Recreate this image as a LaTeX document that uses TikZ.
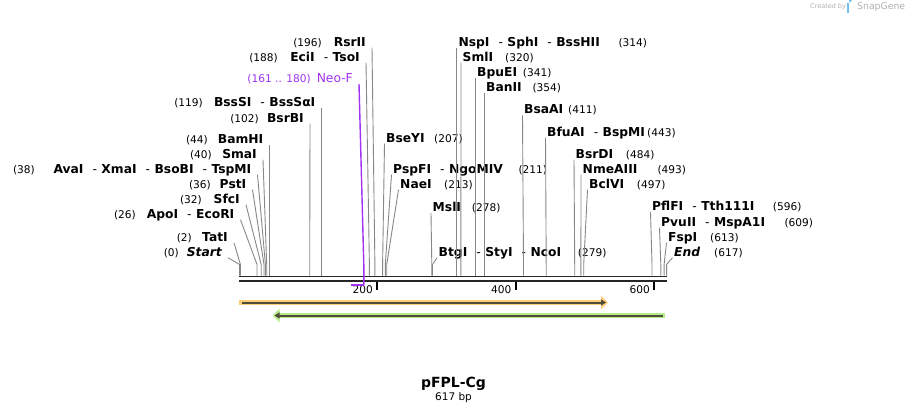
\documentclass[tikz,border=0pt]{standalone}
\usepackage{fontspec}
\setmainfont{DejaVu Sans}
\usepackage{xcolor}
\usepackage{tikz}
\usetikzlibrary{arrows.meta}
\definecolor{cutgray}{RGB}{135,135,135}
\definecolor{neopurple}{RGB}{160,50,240}
\definecolor{featorange}{RGB}{255,204,120}
\definecolor{featgreen}{RGB}{182,236,135}
\definecolor{featdark}{RGB}{78,76,60}
\definecolor{credgray}{RGB}{175,175,175}
\definecolor{logoblue}{RGB}{110,190,240}
\tikzset{enzyme left/.style={anchor=base east, inner xsep=6pt, inner ysep=1.5pt, text depth=0pt, font=\fontsize{12.3}{14}\selectfont\bfseries}}
\tikzset{enzyme right/.style={anchor=base west, inner xsep=1.5pt, inner ysep=1.5pt, text depth=0pt, font=\fontsize{12.3}{14}\selectfont\bfseries}}
\tikzset{pos left/.style={anchor=base east, inner sep=0pt, font=\fontsize{10.6}{12}\selectfont}}
\tikzset{pos right/.style={anchor=base west, inner sep=0pt, font=\fontsize{10.6}{12}\selectfont}}
\tikzset{cut line/.style={draw=cutgray, line width=0.9pt}}
\tikzset{seq bar/.style={draw=black!85, line width=1.8pt}}
\newcommand{\dsep}{\hspace{9pt}{\mdseries -}\hspace{4.5pt}}

\begin{document}
\begin{tikzpicture}[x=1pt, y=-1pt]
  \useasboundingbox (0,0) rectangle (907,415);

  \coordinate (s0) at (239.5,275.5);
  \coordinate (s2) at (240.4,275.5);
  \coordinate (s26) at (257.0,275.5);
  \coordinate (s32) at (261.2,275.5);
  \coordinate (s36) at (264.0,275.5);
  \coordinate (s38) at (265.4,275.5);
  \coordinate (s40) at (266.7,275.5);
  \coordinate (s44) at (269.5,275.5);
  \coordinate (s102) at (309.7,275.5);
  \coordinate (s119) at (321.5,275.5);
  \coordinate (s188) at (369.4,275.5);
  \coordinate (s196) at (374.9,275.5);
  \coordinate (s207) at (382.6,275.5);
  \coordinate (s211) at (385.3,275.5);
  \coordinate (s213) at (386.7,275.5);
  \coordinate (s278) at (431.8,275.5);
  \coordinate (s279) at (432.5,275.5);
  \coordinate (s314) at (456.8,275.5);
  \coordinate (s320) at (460.9,275.5);
  \coordinate (s341) at (475.5,275.5);
  \coordinate (s354) at (484.5,275.5);
  \coordinate (s411) at (523.5,275.5);
  \coordinate (s443) at (546.2,275.5);
  \coordinate (s484) at (574.7,275.5);
  \coordinate (s493) at (580.9,275.5);
  \coordinate (s497) at (583.7,275.5);
  \coordinate (s596) at (652.0,275.5);
  \coordinate (s609) at (660.8,275.5);
  \coordinate (s613) at (664.1,275.5);
  \coordinate (s617) at (666.6,275.5);

  \node[enzyme left] (rsrii) at (372,46) {RsrII};
  \node[pos left] (rsrii-pos) at (322,46) {(196)};
  \node[enzyme left] (ecii) at (366,61) {EciI\dsep TsoI};
  \node[pos left] (ecii-pos) at (278,61) {(188)};
  \node[enzyme left, font=\fontsize{12.3}{14}\selectfont, text=neopurple] (neof) at (359,82.5) {Neo-F};
  \node[pos left, text=neopurple] (neof-pos) at (311,82.5) {(161 .. 180)};
  \node[enzyme left] (bsssi) at (321.5,106) {BssSI\dsep BssSαI};
  \node[pos left] (bsssi-pos) at (203,106) {(119)};
  \node[enzyme left] (bsrbi) at (310,122) {BsrBI};
  \node[pos left] (bsrbi-pos) at (259,122) {(102)};
  \node[enzyme left] (bamhi) at (269.5,143) {BamHI};
  \node[pos left] (bamhi-pos) at (208,143) {(44)};
  \node[enzyme left] (smai) at (263,158) {SmaI};
  \node[pos left] (smai-pos) at (212,158) {(40)};
  \node[enzyme left] (avai) at (257.5,173) {AvaI\dsep XmaI\dsep BsoBI\dsep TspMI};
  \node[pos left] (avai-pos) at (35,173) {(38)};
  \node[enzyme left] (psti) at (252.5,188) {PstI};
  \node[pos left] (psti-pos) at (211,188) {(36)};
  \node[enzyme left] (sfci) at (246,203) {SfcI};
  \node[pos left] (sfci-pos) at (202,203) {(32)};
  \node[enzyme left] (apoi) at (240.5,218) {ApoI\dsep EcoRI};
  \node[pos left] (apoi-pos) at (136,218) {(26)};
  \node[enzyme left] (tati) at (234,241) {TatI};
  \node[pos left] (tati-pos) at (192,241) {(2)};
  \node[enzyme left] (startmark) at (228,256) {\itshape Start};
  \node[pos left] (startmark-pos) at (179,256) {(0)};

  \node[enzyme right] (nspi) at (456.8,46.5) {NspI\dsep SphI\dsep BssHII};
  \node[pos right] (nspi-pos) at (618.3,46.5) {(314)};
  \node[enzyme right] (smli) at (461,61) {SmlI};
  \node[pos right] (smli-pos) at (505,61) {(320)};
  \node[enzyme right] (bpuei) at (475.5,76) {BpuEI};
  \node[pos right] (bpuei-pos) at (522.7,76) {(341)};
  \node[enzyme right] (banii) at (484.5,91) {BanII};
  \node[pos right] (banii-pos) at (532.3,91) {(354)};
  \node[enzyme right] (bsaai) at (522.5,113.7) {BsaAI};
  \node[pos right] (bsaai-pos) at (568,113.7) {(411)};
  \node[enzyme right] (bfuai) at (545.5,136) {BfuAI\dsep BspMI};
  \node[pos right] (bfuai-pos) at (647,136) {(443)};
  \node[enzyme right] (bseyi) at (384.5,142) {BseYI};
  \node[pos right] (bseyi-pos) at (434,142) {(207)};
  \node[enzyme right] (bsrdi) at (574,158) {BsrDI};
  \node[pos right] (bsrdi-pos) at (625.7,158) {(484)};
  \node[enzyme right] (pspfi) at (391.5,173) {PspFI\dsep NgoMIV};
  \node[pos right] (pspfi-pos) at (518.3,173) {(211)};
  \node[enzyme right] (nmeaiii) at (581,173) {NmeAIII};
  \node[pos right] (nmeaiii-pos) at (657.3,173) {(493)};
  \node[enzyme right] (naei) at (398.5,188) {NaeI};
  \node[pos right] (naei-pos) at (444,188) {(213)};
  \node[enzyme right] (bclvi) at (587.5,188) {BclVI};
  \node[pos right] (bclvi-pos) at (636.7,188) {(497)};
  \node[enzyme right] (msli) at (431,211.5) {MslI};
  \node[pos right] (msli-pos) at (471.7,211.5) {(278)};
  \node[enzyme right] (pflfi) at (650.5,210.5) {PflFI\dsep Tth111I};
  \node[pos right] (pflfi-pos) at (772.7,210.5) {(596)};
  \node[enzyme right] (pvuii) at (659.5,226) {PvuII\dsep MspA1I};
  \node[pos right] (pvuii-pos) at (784.3,226) {(609)};
  \node[enzyme right] (fspi) at (666.5,241) {FspI};
  \node[pos right] (fspi-pos) at (710,241) {(613)};
  \node[enzyme right] (btgi) at (437,256) {BtgI\dsep StyI\dsep NcoI};
  \node[pos right] (btgi-pos) at (577.7,256) {(279)};
  \node[enzyme right] (endmark) at (672.5,256) {\itshape End};
  \node[pos right] (endmark-pos) at (714,256) {(617)};

  \draw[cut line] (rsrii.south east) -- ([yshift=11pt]s196) -- (s196);
  \draw[cut line] (ecii.south east) -- ([yshift=11pt]s188) -- (s188);
  \draw[cut line] (bsssi.south east) -- ([yshift=11pt]s119) -- (s119);
  \draw[cut line] (bsrbi.south east) -- ([yshift=11pt]s102) -- (s102);
  \draw[cut line] (bamhi.south east) -- ([yshift=11pt]s44) -- (s44);
  \draw[cut line] (smai.south east) -- ([yshift=11pt]s40) -- (s40);
  \draw[cut line] (avai.south east) -- ([yshift=11pt]s38) -- (s38);
  \draw[cut line] (psti.south east) -- ([yshift=11pt]s36) -- (s36);
  \draw[cut line] (sfci.south east) -- ([yshift=11pt]s32) -- (s32);
  \draw[cut line] (apoi.south east) -- ([yshift=11pt]s26) -- (s26);
  \draw[cut line] (tati.south east) -- ([yshift=11pt]s2) -- (s2);
  \draw[cut line] (startmark.south east) -- ([yshift=11pt]s0) -- (s0);

  \draw[cut line] (nspi.south west) -- ([yshift=11pt]s314) -- (s314);
  \draw[cut line] (smli.south west) -- ([yshift=11pt]s320) -- (s320);
  \draw[cut line] (bpuei.south west) -- ([yshift=11pt]s341) -- (s341);
  \draw[cut line] (banii.south west) -- ([yshift=11pt]s354) -- (s354);
  \draw[cut line] (bsaai.south west) -- ([yshift=11pt]s411) -- (s411);
  \draw[cut line] (bfuai.south west) -- ([yshift=11pt]s443) -- (s443);
  \draw[cut line] (bseyi.south west) -- ([yshift=11pt]s207) -- (s207);
  \draw[cut line] (bsrdi.south west) -- ([yshift=11pt]s484) -- (s484);
  \draw[cut line] (pspfi.south west) -- ([yshift=11pt]s211) -- (s211);
  \draw[cut line] (nmeaiii.south west) -- ([yshift=11pt]s493) -- (s493);
  \draw[cut line] (naei.south west) -- ([yshift=11pt]s213) -- (s213);
  \draw[cut line] (bclvi.south west) -- ([yshift=11pt]s497) -- (s497);
  \draw[cut line] (msli.south west) -- ([yshift=11pt]s278) -- (s278);
  \draw[cut line] (pflfi.south west) -- ([yshift=11pt]s596) -- (s596);
  \draw[cut line] (pvuii.south west) -- ([yshift=11pt]s609) -- (s609);
  \draw[cut line] (fspi.south west) -- ([yshift=11pt]s613) -- (s613);
  \draw[cut line] (btgi.south west) -- ([yshift=11pt]s279) -- (s279);
  \draw[cut line] (endmark.south west) -- ([yshift=11pt]s617) -- (s617);

  \draw[seq bar] (239,276.5) -- (667.3,276.5);
  \draw[seq bar] (239,281) -- (667.3,281);

  \draw[line width=1.8pt] (377,282) -- (377,289.5);
  \draw[line width=1.8pt] (515.8,282) -- (515.8,289.5);
  \draw[line width=1.8pt] (654.3,282) -- (654.3,289.5);
  \node[pos left] (tick200) at (373,293) {200};
  \node[pos left] (tick400) at (511.5,293) {400};
  \node[pos left] (tick600) at (650,293) {600};

  \coordinate (neo-top) at (363.8,264.5);
  \coordinate (neo-end) at (363.8,285);
  \coordinate (neo-start) at (350.5,285);
  \draw[neopurple, line width=1.4pt] (neof.south east) -- (neo-top) -- (neo-end);
  \draw[neopurple, line width=2pt] (neo-end) -- (neo-start);

  \draw[featorange, line width=5.5pt, -{Triangle[length=7pt,width=13pt]}] (239,302.5) -- (608,302.5);
  \draw[featdark, line width=2pt, -{Triangle[length=5pt,width=6pt]}] (241.5,302.5) -- (606,302.5);
  \draw[featgreen, line width=5.5pt, {Triangle[length=7pt,width=13pt]}-] (272.5,315.5) -- (665,315.5);
  \draw[featdark, line width=2pt, {Triangle[length=5pt,width=6pt]}-] (274.5,315.5) -- (662.5,315.5);

  \node[font=\fontsize{14}{16}\selectfont\bfseries] (title) at (453.5,384) {pFPL-Cg};
  \node[font=\fontsize{10.5}{12}\selectfont] (size) at (453.5,398) {617 bp};

  \node[anchor=west, inner sep=0pt, text=credgray, font=\fontsize{6.5}{8}\selectfont] (credit) at (810,7) {Created by};
  \fill[logoblue] (846.5,2.5) rectangle (849,12.5);
  \fill[logoblue] (849,2.5) arc (90:-90:2.8 and 2.6);
  \node[anchor=west, inner sep=0pt, text=credgray, font=\fontsize{9.3}{11}\selectfont] (brand) at (857,7) {SnapGene};
\end{tikzpicture}
\end{document}
